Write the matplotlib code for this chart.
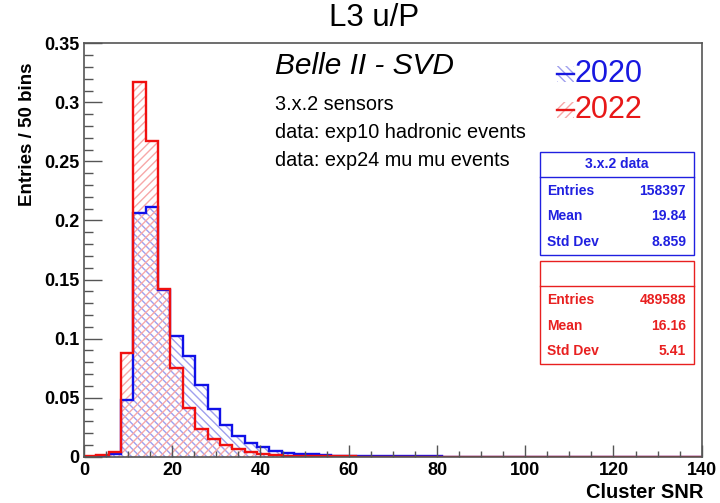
import numpy as np
import matplotlib
matplotlib.use("Agg")
from matplotlib import pyplot as plt
from matplotlib.patches import Rectangle
from matplotlib.lines import Line2D
from matplotlib.ticker import MultipleLocator, FormatStrFormatter

plt.rcParams['font.family'] = ['Liberation Sans', 'DejaVu Sans']
plt.rcParams['hatch.linewidth'] = 1.0

# cluster SNR histograms, 50 bins over 0-140, normalised to unit area
snr_min, snr_max, n_bins = 0, 140, 50
h2020 = [0.0, 0.0003, 0.0020, 0.0480, 0.2061, 0.2117, 0.1410, 0.1025, 0.0850, 0.0607,
         0.0401, 0.0265, 0.0178, 0.0115, 0.0078, 0.0052, 0.0035, 0.0027, 0.0020, 0.0014,
         0.0010, 0.0008, 0.0006, 0.0005, 0.0004, 0.0003, 0.0003, 0.0002, 0.0002, 0.0001,
         0.0001, 0.0001, 0, 0, 0, 0, 0, 0, 0, 0,
         0, 0, 0, 0, 0, 0, 0, 0, 0, 0]
h2022 = [0.0003, 0.0014, 0.0037, 0.0881, 0.3175, 0.2673, 0.1420, 0.0749, 0.0410, 0.0236,
         0.0152, 0.0095, 0.0061, 0.0040, 0.0023, 0.0014, 0.0010, 0.0006, 0.0004, 0.0003,
         0.0002, 0.0002, 0.0001, 0, 0, 0, 0, 0, 0, 0,
         0, 0, 0, 0, 0, 0, 0, 0, 0, 0,
         0, 0, 0, 0, 0, 0, 0, 0, 0, 0]

stats_2020 = [("Entries", "158397"), ("Mean", "19.84"), ("Std Dev", "8.859")]
stats_2022 = [("Entries", "489588"), ("Mean", "16.16"), ("Std Dev", "5.41")]
info_lines = ["3.x.2 sensors", "data: exp10 hadronic events", "data: exp24 mu mu events"]

W, H = 720, 503
edges = np.linspace(snr_min, snr_max, n_bins + 1)


def fxy(x, y):
    # pixel position (from top-left) -> figure fraction
    return x / W, 1 - y / H


fig = plt.figure(figsize=(W / 100, H / 100), dpi=100)
x0, y0 = fxy(84, 456.7)
x1, y1 = fxy(701.7, 43.3)
ax = fig.add_axes([x0, y0, x1 - x0, y1 - y0])

# hatched fills, then outlines (2022 on top)
ax.stairs(h2020, edges, fill=True, facecolor='none', edgecolor='#a0a0ee', hatch='\\\\\\\\', linewidth=0)
ax.stairs(h2022, edges, fill=True, facecolor='none', edgecolor='#f7a8a8', hatch='////', linewidth=0)
ax.stairs(h2020, edges, color='#1010e8', linewidth=1.7)
ax.stairs(h2022, edges, color='#f01010', linewidth=1.7)

ax.set_xlim(snr_min, snr_max)
ax.set_ylim(0, 0.35)
ax.xaxis.set_major_locator(MultipleLocator(20))
ax.xaxis.set_minor_locator(MultipleLocator(5))
ax.yaxis.set_major_locator(MultipleLocator(0.05))
ax.yaxis.set_minor_locator(MultipleLocator(0.01))
ax.yaxis.set_major_formatter(FormatStrFormatter('%g'))
ax.tick_params(axis='x', which='major', direction='in', length=9, width=1, color='#555555',
               pad=4, labelsize=13)
ax.tick_params(axis='x', which='minor', direction='in', length=4.5, width=1, color='#555555')
ax.tick_params(axis='y', which='major', direction='in', length=13, width=1, color='#555555',
               pad=3, labelsize=13)
ax.tick_params(axis='y', which='minor', direction='in', length=6.5, width=1, color='#555555')
for lab in ax.get_xticklabels() + ax.get_yticklabels():
    lab.set_fontweight('bold')
for sp in ax.spines.values():
    sp.set_color('#555555')
    sp.set_linewidth(1.2)

# titles and axis labels
fig.text(*fxy(374, 18), "L3 u/P", fontsize=22.5, ha='center', va='center')
fig.text(*fxy(28, 62), "Entries / 50 bins", rotation=90, fontsize=13.5, fontweight='bold',
         ha='center', va='top')
fig.text(*fxy(703, 492), "Cluster SNR", fontsize=14.5, fontweight='bold', ha='right', va='center')

# annotation block
fig.text(*fxy(275, 66), "Belle II - SVD", fontsize=21.5, style='italic', ha='left', va='center')
for i, line in enumerate(info_lines):
    fig.text(*fxy(275, 105 + 27.5 * i), line, fontsize=14.3, ha='left', va='center')

# legend
for yc, label, col, hcol, hatch in [(74, "2020", '#1818e0', '#a0a0ee', '\\\\\\\\'),
                                    (110, "2022", '#e81818', '#f7a8a8', '////')]:
    rx, ry = fxy(557, yc + 8)
    fig.add_artist(Rectangle((rx, ry), 17 / W, 16 / H, transform=fig.transFigure,
                             facecolor='none', edgecolor=hcol, hatch=hatch, linewidth=0))
    lx0, ly = fxy(557, yc)
    lx1, _ = fxy(574, yc)
    fig.add_artist(Line2D([lx0, lx1], [ly, ly], color=col, linewidth=1.7, transform=fig.transFigure))
    fig.text(*fxy(574, yc), label, fontsize=22, color=col, ha='left', va='center')


# stat boxes
def stat_box(top, header, rows, col):
    left, right, hdr_h, bottom = 540, 694, 25, top + 103
    bx, by = fxy(left, bottom)
    fig.add_artist(Rectangle((bx, by), (right - left) / W, (bottom - top) / H,
                             transform=fig.transFigure, facecolor='white', edgecolor=col,
                             linewidth=1.0))
    sx0, sy = fxy(left, top + hdr_h)
    sx1, _ = fxy(right, top + hdr_h)
    fig.add_artist(Line2D([sx0, sx1], [sy, sy], color=col, linewidth=1.0, transform=fig.transFigure))
    if header:
        fig.text(*fxy((left + right) / 2, top + hdr_h / 2), header, fontsize=10, fontweight='bold',
                 color=col, ha='center', va='center')
    for i, (name, val) in enumerate(rows):
        yy = top + 39 + 25.8 * i
        fig.text(*fxy(547, yy), name, fontsize=10, fontweight='bold', color=col, ha='left', va='center')
        fig.text(*fxy(686, yy), val, fontsize=10, fontweight='bold', color=col, ha='right', va='center')


stat_box(151.7, "3.x.2 data", stats_2020, '#2020e0')
stat_box(260.7, "", stats_2022, '#e82020')

fig.savefig("out.png", dpi=100, facecolor='white')
